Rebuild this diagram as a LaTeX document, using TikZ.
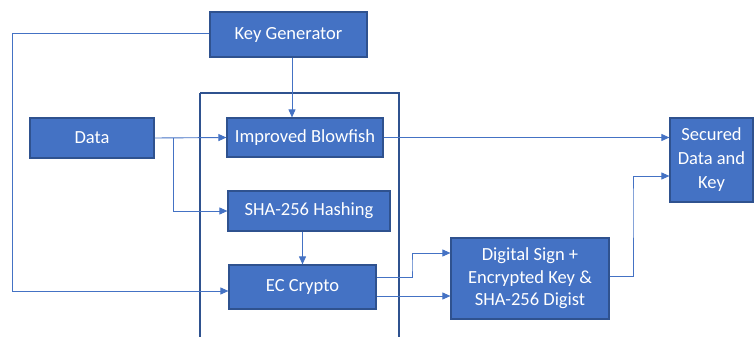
\documentclass[tikz,border=0pt]{standalone}
\usepackage{fontspec}
\setmainfont{Carlito}
\usetikzlibrary{arrows.meta,calc}
\definecolor{boxfill}{HTML}{4472C4}
\definecolor{boxedge}{HTML}{2F528F}
\definecolor{linec}{HTML}{4472C4}
\tikzset{
  box/.style={draw=boxedge, line width=1.2pt, fill=boxfill, text=white, font=\fontsize{18.5}{22.5}\selectfont, align=center, inner sep=0pt},
  conn/.style={draw=linec, line width=0.9pt},
  arr/.style={conn, -{Triangle[length=8pt,width=7pt]}}
}
\begin{document}
\begin{tikzpicture}[x=1pt,y=-1pt]
\useasboundingbox (0,0) rectangle (755,337);
\draw[boxedge, line width=1.3pt] (200,93) -- (200,345) (200,93) -- (399,93) -- (399,345);
\node[box, minimum width=157pt, minimum height=45pt] (KG) at (288.5,34.5) {Key Generator};
\node[box, minimum width=124pt, minimum height=40pt] (DA) at (92,138) {Data};
\node[box, minimum width=156pt, minimum height=39pt] (BF) at (305,137.5) {Improved Blowfish};
\node[box, minimum width=162pt, minimum height=40pt] (SHA) at (309,211) {SHA-256 Hashing};
\node[box, minimum width=147pt, minimum height=44pt] (EC) at (302.5,287) {EC Crypto};
\node[box, minimum width=158pt, minimum height=81pt] (DS) at (530,278.5) {Digital Sign +\\Encrypted Key \&\\SHA-256 Digist};
\node[box, minimum width=83pt, minimum height=84pt, font=\fontsize{18.5}{24}\selectfont] (SE) at (711.5,160) {Secured\\Data and\\Key};
\coordinate (br) at (173,138);
\coordinate (lk) at (12,33);
\draw[arr] (KG.west |- lk) -- (lk) |- ([yshift=-4pt]EC.west);
\draw[arr] ([xshift=3.5pt]KG.south) -- ([xshift=3.5pt]KG.south |- BF.north);
\draw[arr] (DA.east) -- (BF.west);
\draw[arr] (br) |- (SHA.west);
\draw[arr] (SHA.south -| EC.north) -- (EC.north);
\draw[arr] ([yshift=10pt]EC.east) -| (412,265.5) |- ([yshift=25.5pt]DS.west);
\draw[arr] ([yshift=-9pt]EC.east) -- ([yshift=-9pt]EC.east -| DS.west);
\draw[arr] ([yshift=2.5pt]DS.east) -| (633,200) |- ([yshift=-16pt]SE.west);
\draw[arr] (BF.east) -- (BF.east -| SE.west);
\end{tikzpicture}
\end{document}
